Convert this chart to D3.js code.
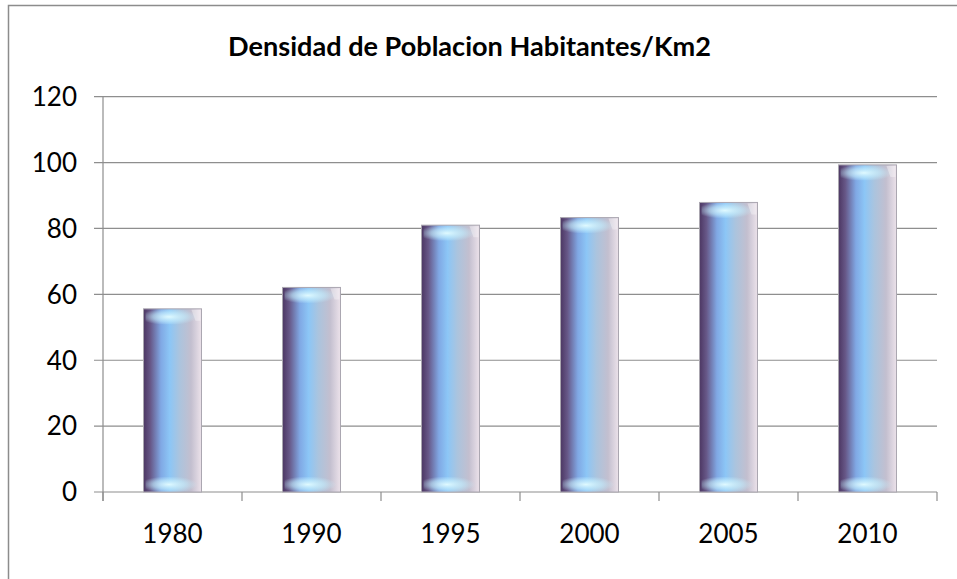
<!DOCTYPE html>
<html>
<head>
<meta charset="utf-8">
<script src="https://cdn.jsdelivr.net/npm/d3@7"></script>
<style>
  body { margin: 0; background: #ffffff; }
  svg { display: block; font-family: Lato, "Open Sans", sans-serif; }
</style>
</head>
<body>
<script>
var years = ["1980", "1990", "1995", "2000", "2005", "2010"];
var density = [55.6, 62.1, 81, 83.3, 87.9, 99.3];
var yTicks = [0, 20, 40, 60, 80, 100, 120];
var chartTitle = "Densidad de Poblacion Habitantes/Km2";

var width = 957, height = 579;
var plotLeft = 103, plotRight = 937, plotTop = 96.7, plotBottom = 492;
var labelSize = 26;

var svg = d3.select("body")
	.append("svg")
	.attr("width", width)
	.attr("height", height);

var defs = svg.append("defs");

// horizontal shading of the bars (dark purple -> light blue -> pale pink)
var barBody = defs.append("linearGradient")
	.attr("id", "barBody")
	.attr("x1", "0").attr("x2", "1").attr("y1", "0").attr("y2", "0");
[["0%", "#4c3662"], ["12%", "#675888"], ["30%", "#80a8e4"], ["45%", "#8cc6f6"],
 ["62%", "#abc4de"], ["82%", "#c3bfcf"], ["100%", "#ece2ea"]].forEach(function(s) {
	barBody.append("stop").attr("offset", s[0]).attr("stop-color", s[1]);
});

// soft glow at top and bottom of each bar
var glow = defs.append("radialGradient")
	.attr("id", "glow")
	.attr("cx", "0.45").attr("cy", "0.5").attr("r", "0.55");
glow.append("stop").attr("offset", "0%").attr("stop-color", "#e4fcff").attr("stop-opacity", 0.95);
glow.append("stop").attr("offset", "55%").attr("stop-color", "#c6f0ff").attr("stop-opacity", 0.6);
glow.append("stop").attr("offset", "100%").attr("stop-color", "#c6f0ff").attr("stop-opacity", 0);

// chart frame
svg.append("rect")
	.attr("x", 8.5)
	.attr("y", 5.5)
	.attr("width", 1000)
	.attr("height", 700)
	.attr("fill", "none")
	.attr("stroke", "#8c8c8c")
	.attr("stroke-width", 1.5);

var x = d3.scaleBand()
	.domain(years)
	.range([plotLeft, plotRight])
	.paddingInner(0.583)
	.paddingOuter(0.2915);

var y = d3.scaleLinear()
	.domain([0, 120])
	.range([plotBottom, plotTop]);

// gridlines
svg.append("g")
	.selectAll("line")
	.data(yTicks)
	.enter()
	.append("line")
	.attr("x1", plotLeft - 9)
	.attr("x2", plotRight)
	.attr("y1", function(d) { return y(d); })
	.attr("y2", function(d) { return y(d); })
	.attr("stroke", "#8e8e8e")
	.attr("stroke-width", 1.2);

// y axis line
svg.append("line")
	.attr("x1", plotLeft).attr("x2", plotLeft)
	.attr("y1", plotTop).attr("y2", plotBottom + 9)
	.attr("stroke", "#8e8e8e")
	.attr("stroke-width", 1.2);

// y labels
svg.append("g")
	.selectAll("text")
	.data(yTicks)
	.enter()
	.append("text")
	.attr("x", 77)
	.attr("y", function(d) { return y(d); })
	.attr("dy", "0.36em")
	.attr("text-anchor", "end")
	.attr("font-size", labelSize)
	.attr("fill", "#000")
	.text(function(d) { return d; });

// x ticks between categories
var step = x.step();
var boundaries = d3.range(years.length + 1).map(function(i) { return plotLeft + i * step; });
svg.append("g")
	.selectAll("line")
	.data(boundaries)
	.enter()
	.append("line")
	.attr("x1", function(d) { return d; })
	.attr("x2", function(d) { return d; })
	.attr("y1", plotBottom)
	.attr("y2", plotBottom + 9)
	.attr("stroke", "#8e8e8e")
	.attr("stroke-width", 1.2);

// x labels
svg.append("g")
	.selectAll("text")
	.data(years)
	.enter()
	.append("text")
	.attr("x", function(d) { return x(d) + x.bandwidth() / 2; })
	.attr("y", 543)
	.attr("text-anchor", "middle")
	.attr("font-size", labelSize)
	.attr("fill", "#000")
	.text(function(d) { return d; });

// bars
var bars = svg.append("g")
	.selectAll("g")
	.data(years)
	.enter()
	.append("g");

var bw = x.bandwidth();

bars.append("rect")
	.attr("x", function(d) { return x(d); })
	.attr("y", function(d, i) { return y(density[i]); })
	.attr("width", bw)
	.attr("height", function(d, i) { return plotBottom - y(density[i]); })
	.attr("fill", "url(#barBody)")
	.attr("stroke", "#aaa6b0")
	.attr("stroke-width", 1);

bars.append("rect")
	.attr("x", function(d) { return x(d) + 2; })
	.attr("y", function(d, i) { return y(density[i]) + 0.5; })
	.attr("width", bw - 6)
	.attr("height", 15)
	.attr("fill", "url(#glow)");

bars.append("rect")
	.attr("x", function(d) { return x(d) + 2; })
	.attr("y", plotBottom - 15)
	.attr("width", bw - 6)
	.attr("height", 15)
	.attr("fill", "url(#glow)");

// bevel at top-right corner
bars.append("path")
	.attr("d", function(d, i) {
		var x0 = x(d) + bw, y0 = y(density[i]);
		return "M" + (x0 - 10) + "," + (y0 + 1) + "L" + (x0 - 1) + "," + (y0 + 1)
			+ "L" + (x0 - 1) + "," + (y0 + 12) + "L" + (x0 - 6) + "," + (y0 + 12) + "Z";
	})
	.attr("fill", "#ffffff")
	.attr("opacity", 0.35);

// title
var title = svg.append("text")
	.attr("x", 469.5)
	.attr("y", 56)
	.attr("text-anchor", "middle")
	.attr("font-weight", "bold")
	.attr("font-size", 26)
	.attr("fill", "#000")
	.text(chartTitle);

var tw = title.node().getComputedTextLength();
title.attr("font-size", 26 * 483 / tw);
</script>
</body>
</html>
